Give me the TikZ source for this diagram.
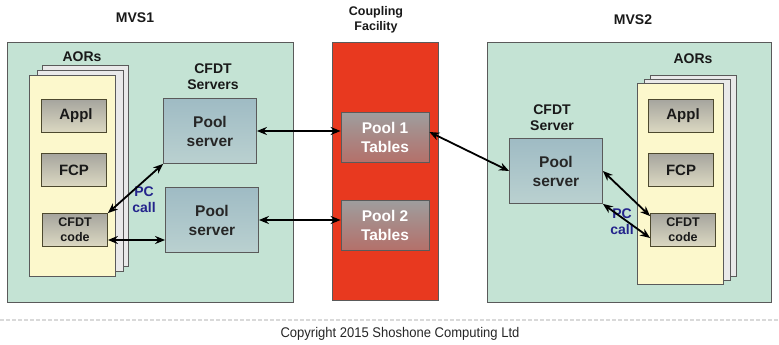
\documentclass[tikz,border=0pt]{standalone}
\usepackage{fontspec}
\setmainfont{Liberation Sans}
\newfontfamily\narrowfont[FakeStretch=0.93]{Liberation Sans}
\usetikzlibrary{arrows.meta}
\definecolor{mvsgreen}{HTML}{C4E3D4}
\definecolor{cfred}{HTML}{E8391F}
\definecolor{pagecream}{HTML}{FCF8CC}
\definecolor{pagegrey}{HTML}{E9E9E9}
\definecolor{pctext}{HTML}{24248C}
\definecolor{framegrey}{HTML}{5A5A5A}
\definecolor{parttop}{HTML}{A6A59E}
\definecolor{partbot}{HTML}{DCD9C2}
\definecolor{pooltop}{HTML}{9FBBC4}
\definecolor{poolbot}{HTML}{BAD1D0}
\definecolor{tabtop}{HTML}{9E9E9E}
\definecolor{tabbot}{HTML}{B4706A}
\begin{document}
\begin{tikzpicture}[x=1pt,y=-1pt]
	\tikzset{frame/.style={draw=framegrey, line width=0.8pt, inner sep=0pt},
		mvs/.style={frame, fill=mvsgreen},
		page/.style={frame, fill=pagegrey, minimum width=86pt, minimum height=201pt},
		front/.style={page, fill=pagecream},
		part/.style={frame, draw=black!60!olive, top color=parttop, bottom color=partbot, minimum width=65pt, minimum height=33pt, text=black!90, font=\bfseries\fontsize{15}{17}\selectfont},
		code/.style={part, align=center, font=\bfseries\fontsize{12.5}{15}\selectfont},
		pool/.style={frame, top color=pooltop, bottom color=poolbot, minimum width=93pt, minimum height=65pt, align=center, text=black!85, font=\bfseries\fontsize{15.5}{19}\selectfont},
		table/.style={frame, top color=tabtop, bottom color=tabbot, text=white, minimum width=88pt, minimum height=50pt, align=center, font=\bfseries\fontsize{15.5}{19}\selectfont},
		title/.style={align=center, text=black!90, font=\bfseries\fontsize{14}{16}\selectfont},
		pc/.style={title, text=pctext},
		link/.style={{Stealth[length=10pt,width=8pt]}-{Stealth[length=10pt,width=8pt]}, line width=1.8pt}};
	\useasboundingbox (0,0) rectangle (779,345);

	% systems
	\node[mvs, minimum width=286pt, minimum height=260pt] (mvsA) at (150,172) {};
	\node[mvs, minimum width=284pt, minimum height=260pt] (mvsB) at (629,172) {};
	\node[frame, fill=cfred, minimum width=106pt, minimum height=258pt] (cf) at (385,171) {};
	\node[title] (mvsAlbl) at (135,18) {MVS1};
	\node[title] (mvsBlbl) at (633,20) {MVS2};
	\node[title, font=\bfseries\fontsize{12.5}{15}\selectfont] (cflbl) at (376,20) {Coupling\\Facility};

	% AOR stack, MVS1
	\node[page] (pgA3) at (85,166) {};
	\node[page] (pgA2) at (80,171) {};
	\node[front] (pgA1) at (72,176) {};
	\node[title] (aorA) at (82,57) {AORs};
	\node[part] (applA) at (74,116) {\hspace{4pt}Appl};
	\node[part] (fcpA) at (74,170) {FCP};
	\node[code] (codeA) at (75,230) {CFDT\\code};

	% AOR stack, MVS2
	\node[page] (pgB3) at (693,176) {};
	\node[page] (pgB2) at (687,180) {};
	\node[front] (pgB1) at (680,184) {};
	\node[title] (aorB) at (693,59) {AORs};
	\node[part] (applB) at (681,116) {\hspace{4pt}Appl};
	\node[part] (fcpB) at (681,170) {FCP};
	\node[code] (codeB) at (683,230) {CFDT\\code};

	% servers and tables
	\node[title] (srvA) at (213,77) {CFDT\\Servers};
	\node[pool] (psA1) at (210,131) {Pool\\server};
	\node[pool] (psA2) at (212,220) {Pool\\server};
	\node[title] (srvB) at (552,118) {CFDT\\Server};
	\node[pool] (psB) at (556,171) {Pool\\server};
	\node[table] (tab1) at (385,137) {Pool 1\\Tables};
	\node[table] (tab2) at (385,225) {Pool 2\\Tables};
	\node[pc] (pcA) at (144,200) {PC\\call};
	\node[pc] (pcB) at (622,222) {PC\\call};

	\draw[link] (codeA.north east) -- (psA1.south west);
	\draw[link] ([yshift=-10pt]codeA.east) -- ([yshift=-10pt]codeA.east -| psA2.west);
	\draw[link] (psA1.east) -- (psA1.east -| tab1.west);
	\draw[link] (psA2.east) -- (psA2.east -| tab2.west);
	\draw[link] ([yshift=5pt]tab1.east) -- (psB.west);
	\draw[link] (psB.east) -- ([yshift=-3pt]codeB.north west);
	\draw[link] (psB.south east) -- ([yshift=-8pt]codeB.west);

	% footer
	\coordinate (footL) at (0,320);
	\coordinate (footR) at (779,320);
	\draw[black!15, line width=2pt, dash pattern=on 4pt off 2pt] (footL) -- (footR);
	\node[text=black!85, font=\narrowfont\fontsize{14}{16}\selectfont] (copy) at (400,334) {Copyright 2015 Shoshone Computing Ltd};
\end{tikzpicture}
\end{document}
